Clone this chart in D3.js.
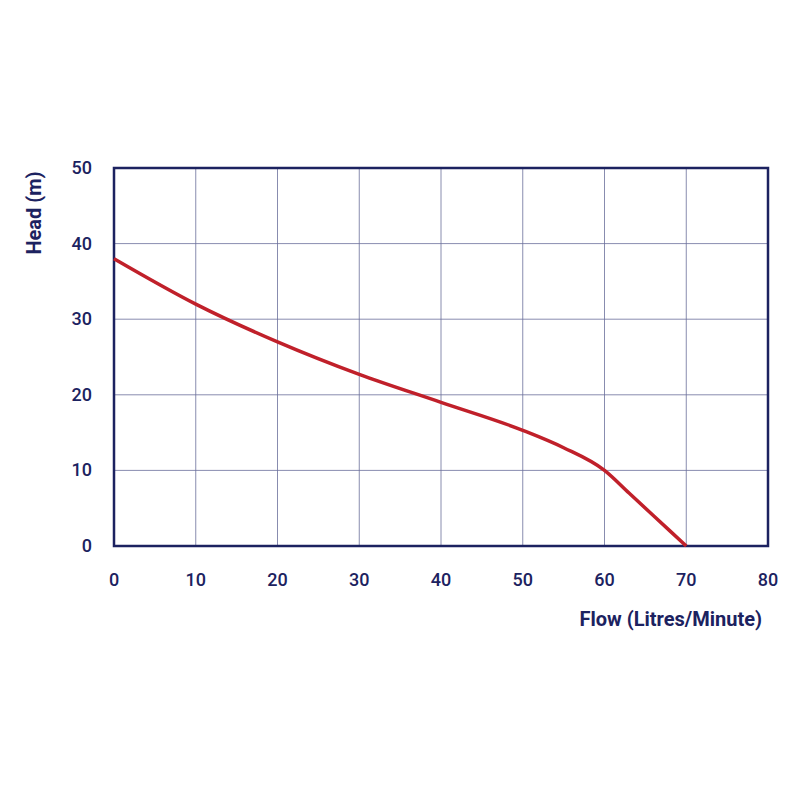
<!DOCTYPE html>
<html><head><meta charset="utf-8">
<script src="https://cdn.jsdelivr.net/npm/d3@7"></script>
<style>body{margin:0;background:#fff}</style></head>
<body><svg id="c" width="800" height="800"></svg>
<script>
const flow = [0,10,20,30,40,50,55,60,63,66,70];
const head = [38,32,27,22.7,19,15.3,13,10,7,4,0];
const xTicks = [0,10,20,30,40,50,60,70,80];
const yTicks = [0,10,20,30,40,50];
const navy = "#1c2260", red = "#c0202a";
const svg = d3.select("#c");
const L=114,R=768,T=168,B=546;
const x = d3.scaleLinear().domain([0,80]).range([L,R]);
const y = d3.scaleLinear().domain([0,50]).range([B,T]);
const g = svg.append("g");
g.selectAll(".vx").data(xTicks).join("line").attr("x1",d=>x(d)).attr("x2",d=>x(d)).attr("y1",T).attr("y2",B).attr("stroke","#6a6f9a").attr("stroke-width",0.8);
g.selectAll(".hy").data(yTicks).join("line").attr("y1",d=>y(d)).attr("y2",d=>y(d)).attr("x1",L).attr("x2",R).attr("stroke","#6a6f9a").attr("stroke-width",0.8);
g.append("rect").attr("x",L).attr("y",T).attr("width",R-L).attr("height",B-T).attr("fill","none").attr("stroke",navy).attr("stroke-width",2.5);
const font = "Roboto, sans-serif";
g.selectAll(".xt").data(xTicks).join("text").attr("x",d=>x(d)).attr("y",B+40).attr("text-anchor","middle").attr("fill",navy).attr("font-family",font).attr("font-weight",500).attr("font-size",18).text(d=>d);
g.selectAll(".yt").data(yTicks).join("text").attr("x",L-22).attr("y",d=>y(d)+6).attr("text-anchor","end").attr("fill",navy).attr("font-family",font).attr("font-weight",500).attr("font-size",18).text(d=>d);
g.append("path").datum(flow.map((f,i)=>[f,head[i]])).attr("d",d3.line().x(d=>x(d[0])).y(d=>y(d[1])).curve(d3.curveMonotoneX)).attr("fill","none").attr("stroke",red).attr("stroke-width",3.5);
svg.append("text").attr("x",R-6).attr("y",626).attr("text-anchor","end").attr("fill",navy).attr("font-family",font).attr("font-weight",700).attr("font-size",20).text("Flow (Litres/Minute)");
svg.append("text").attr("transform","translate(41,213) rotate(-90)").attr("text-anchor","middle").attr("fill",navy).attr("font-family",font).attr("font-weight",700).attr("font-size",20).text("Head (m)");
</script></body></html>
